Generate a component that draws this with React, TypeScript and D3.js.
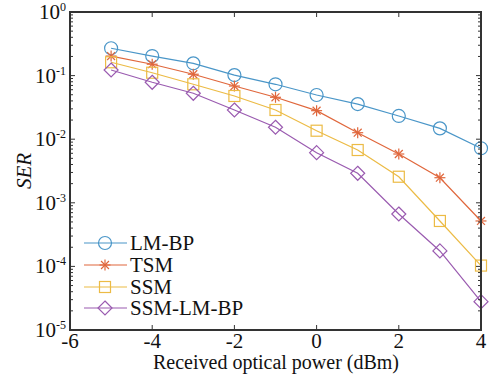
import React from "react";
import * as d3 from "d3";

const xValues = [-5, -4, -3, -2, -1, 0, 1, 2, 3, 4];
const lmbp = [0.269, 0.203, 0.156, 0.102, 0.073, 0.0495, 0.0357, 0.0232, 0.0148, 0.0072];
const tsm = [0.203, 0.151, 0.105, 0.0686, 0.0456, 0.0281, 0.01265, 0.00585, 0.00248, 0.000518];
const ssm = [0.162, 0.111, 0.073, 0.0478, 0.0288, 0.0136, 0.00676, 0.00257, 0.000518, 0.000103];
const ssmlmbp = [0.1225, 0.0785, 0.0527, 0.0288, 0.0154, 0.00614, 0.00291, 0.000667, 0.000175, 0.0000279];
const seriesNames = ["LM-BP", "TSM", "SSM", "SSM-LM-BP"];
const seriesColors = ["#4a96c8", "#e0673c", "#ecbb45", "#9a5bb0"];
const xTicks = [-6, -4, -2, 0, 2, 4];
const yExponents = [0, -1, -2, -3, -4, -5];

const W = 489, H = 377;
const L = 70, R = 481, T = 12, B = 330;
const FONT = "Liberation Serif, Tinos, Times New Roman, DejaVu Serif, serif";
const AXC = "#333";
const txt: React.CSSProperties = { fontFamily: FONT };

function Marker({ kind, x, y, color }: { kind: number; x: number; y: number; color: string }) {
  if (kind === 0) return <circle cx={x} cy={y} r={6.5} fill="none" stroke={color} strokeWidth={1.2} />;
  if (kind === 1) {
    const s = 5.5;
    const d = s * 0.72;
    return (
      <g stroke={color} strokeWidth={1.2}>
        <line x1={x - s} y1={y} x2={x + s} y2={y} />
        <line x1={x} y1={y - s} x2={x} y2={y + s} />
        <line x1={x - d} y1={y - d} x2={x + d} y2={y + d} />
        <line x1={x - d} y1={y + d} x2={x + d} y2={y - d} />
      </g>
    );
  }
  if (kind === 2) return <rect x={x - 5.5} y={y - 5.5} width={11} height={11} fill="none" stroke={color} strokeWidth={1.2} />;
  const s = 7;
  return <path d={`M${x},${y - s}L${x + s},${y}L${x},${y + s}L${x - s},${y}Z`} fill="none" stroke={color} strokeWidth={1.2} />;
}

export default function App() {
  const x = d3.scaleLinear().domain([-6, 4]).range([L, R]);
  const y = d3.scaleLog().domain([1e-5, 1]).range([B, T]);
  const series = [lmbp, tsm, ssm, ssmlmbp];
  const line = d3.line<[number, number]>().x(d => x(d[0])).y(d => y(d[1]));

  const minor: number[] = [];
  for (let e = -5; e < 0; e++) for (let k = 2; k <= 9; k++) minor.push(k * Math.pow(10, e));

  const legendY = [243, 265, 287, 308];

  return (
    <svg width={W} height={H} style={{ position: "absolute", left: 0, top: 0, background: "#fff" }}>
      <rect x={0} y={0} width={W} height={H} fill="#fff" />
      {series.map((s, i) => (
        <g key={i}>
          <path d={line(xValues.map((v, j) => [v, s[j]] as [number, number])) || ""} fill="none" stroke={seriesColors[i]} strokeWidth={1.2} />
          {xValues.map((v, j) => (
            <Marker key={j} kind={i} x={x(v)} y={y(s[j])} color={seriesColors[i]} />
          ))}
        </g>
      ))}
      {xTicks.map(t => (
        <g key={t} stroke={AXC} strokeWidth={1}>
          <line x1={x(t)} y1={B} x2={x(t)} y2={B - 5} />
          <line x1={x(t)} y1={T} x2={x(t)} y2={T + 5} />
        </g>
      ))}
      {yExponents.map(e => (
        <g key={e} stroke={AXC} strokeWidth={1}>
          <line x1={L} y1={y(Math.pow(10, e))} x2={L + 5} y2={y(Math.pow(10, e))} />
          <line x1={R} y1={y(Math.pow(10, e))} x2={R - 5} y2={y(Math.pow(10, e))} />
        </g>
      ))}
      {minor.map((m, i) => (
        <g key={i} stroke={AXC} strokeWidth={1}>
          <line x1={L} y1={y(m)} x2={L + 3} y2={y(m)} />
          <line x1={R} y1={y(m)} x2={R - 3} y2={y(m)} />
        </g>
      ))}
      <rect x={L} y={T} width={R - L} height={B - T} fill="none" stroke={AXC} strokeWidth={2} />
      {xTicks.map(t => (
        <text key={t} x={x(t)} y={348} textAnchor="middle" style={txt} fontSize={21} fill="#111">
          {t < 0 ? "-" + Math.abs(t) : t}
        </text>
      ))}
      {yExponents.map(e => (
        <text key={e} x={66} y={y(Math.pow(10, e)) + 7} textAnchor="end" style={txt} fontSize={21} fill="#111">
          10
          <tspan dy={-8} fontSize={12}>{e}</tspan>
        </text>
      ))}
      <text x={276} y={369} textAnchor="middle" style={txt} fontSize={20} fill="#111">
        Received optical power (dBm)
      </text>
      <text transform={`translate(31,${(T + B) / 2}) rotate(-90)`} textAnchor="middle" style={txt} fontSize={21} fontStyle="italic" fill="#111">
        SER
      </text>
      {seriesNames.map((n, i) => (
        <g key={n}>
          <line x1={84} y1={legendY[i]} x2={127} y2={legendY[i]} stroke={seriesColors[i]} strokeWidth={1.2} />
          <Marker kind={i} x={105} y={legendY[i]} color={seriesColors[i]} />
          <text x={130} y={legendY[i] + 7} style={txt} fontSize={21} fill="#111">{n}</text>
        </g>
      ))}
    </svg>
  );
}
